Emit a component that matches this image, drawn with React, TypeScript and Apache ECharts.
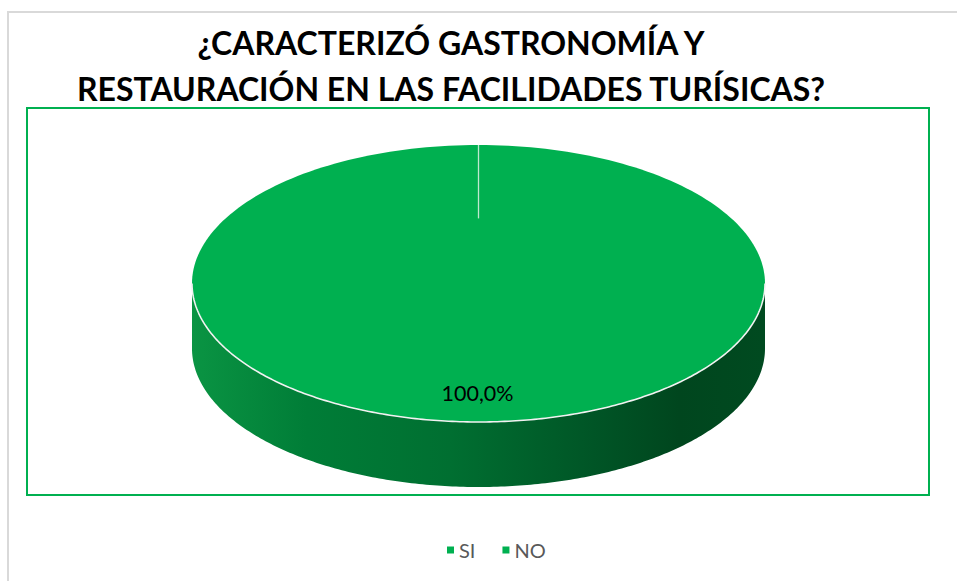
import React, { useEffect, useRef } from "react";
import * as echarts from "echarts";

const categories = ["SI", "NO"];
const values = [100, 0];
const colors = ["#00B050", "#00B050"];
const titleLines = ["¿CARACTERIZÓ GASTRONOMÍA Y", "RESTAURACIÓN EN LAS FACILIDADES TURÍSICAS?"];

const CX = 478.5;
const CY = 283.5;
const RX = 286.5;
const RY = 138.5;
const DEPTH = 65;
const N = 240;

const total = values.reduce((a, b) => a + b, 0);

function pt(t: number, dy = 0): number[] {
  return [CX + RX * Math.sin(t), CY - RY * Math.cos(t) + dy];
}

export default function App() {
  const ref = useRef<HTMLDivElement>(null);
  useEffect(() => {
    document.body.style.margin = "0";
    if (!ref.current) return;
    const chart = echarts.init(ref.current, undefined, { renderer: "svg" });

    const renderSlice = (seriesIdx: number) => (params: any, api: any) => {
      const value = api.value(0);
      let before = 0;
      for (let i = 0; i < seriesIdx; i++) before += values[i];
      const a0 = (before / total) * Math.PI * 2;
      const a1 = ((before + value) / total) * Math.PI * 2;
      const children: any[] = [];
      if (value > 0) {
        const s0 = Math.max(a0, Math.PI / 2);
        const s1 = Math.min(a1, (3 * Math.PI) / 2);
        if (s1 > s0) {
          const top: number[][] = [];
          const bot: number[][] = [];
          for (let k = 0; k <= N; k++) {
            const t = s0 + ((s1 - s0) * k) / N;
            top.push(pt(t));
            bot.push(pt(t, DEPTH));
          }
          children.push({
            type: "polygon",
            shape: { points: top.concat(bot.reverse()) },
            style: {
              fill: new echarts.graphic.LinearGradient(1, 0, 0, 0, [
                { offset: 0, color: "#004A20" },
                { offset: 0.15, color: "#00461E" },
                { offset: 0.3, color: "#005526" },
                { offset: 0.55, color: "#006F31" },
                { offset: 0.8, color: "#007D37" },
                { offset: 1, color: "#0A9443" },
              ]),
            },
          });
        }
        const face: number[][] = [];
        const full = a1 - a0 >= Math.PI * 2 - 1e-9;
        if (!full) face.push([CX, CY]);
        for (let k = 0; k <= N; k++) {
          face.push(pt(a0 + ((a1 - a0) * k) / N));
        }
        children.push({
          type: "polygon",
          shape: { points: face },
          style: { fill: colors[seriesIdx] },
        });
        if (s1 > s0) {
          const rim: number[][] = [];
          for (let k = 0; k <= N; k++) rim.push(pt(s0 + ((s1 - s0) * k) / N));
          children.push({
            type: "polyline",
            shape: { points: rim },
            style: { stroke: "#F2F2F2", lineWidth: 1.6, fill: null },
          });
        }
        const edge = pt(a0);
        children.push({
          type: "line",
          shape: {
            x1: edge[0],
            y1: edge[1],
            x2: CX + (edge[0] - CX) * 0.47,
            y2: CY + (edge[1] - CY) * 0.47,
          },
          style: { stroke: "#BFE8CF", lineWidth: 1.3 },
        });
        const mid = (a0 + a1) / 2;
        children.push({
          type: "text",
          style: {
            text: ((value / total) * 100).toFixed(1).replace(".", ",") + "%",
            x: CX + RX * 0.79 * Math.sin(mid) - 1,
            y: CY - RY * 0.79 * Math.cos(mid),
            align: "center",
            verticalAlign: "middle",
            fill: "#000000",
            fontSize: 21.5,
            fontFamily: "Lato",
          },
        });
      }
      return { type: "group", children };
    };

    chart.setOption({
      animation: false,
      title: {
        text: titleLines.join("\n"),
        left: 451,
        top: 19,
        textAlign: "center",
        padding: 0,
        textStyle: {
          fontFamily: "Lato",
          fontWeight: "bold",
          fontSize: 32,
          lineHeight: 46,
          color: "#000000",
        },
      },
      legend: {
        data: categories,
        left: 442,
        top: 535,
        icon: "rect",
        itemWidth: 7,
        itemHeight: 7,
        itemGap: 27,
        textStyle: { fontFamily: "Lato", fontSize: 20, color: "#595959" },
      },
      graphic: [
        {
          type: "rect",
          shape: { x: 8, y: 12, width: 1000, height: 700 },
          style: { fill: null, stroke: "#D9D9D9", lineWidth: 2 },
          silent: true,
        },
        {
          type: "rect",
          shape: { x: 27, y: 108, width: 902, height: 387 },
          style: { fill: null, stroke: "#00B050", lineWidth: 2 },
          silent: true,
        },
      ],
      series: categories.map((name, i) => ({
        type: "custom",
        name,
        coordinateSystem: "none",
        itemStyle: { color: colors[i] },
        data: [[values[i]]],
        renderItem: renderSlice(i),
      })),
    });
    return () => chart.dispose();
  }, []);
  return <div ref={ref} style={{ width: 957, height: 581 }} />;
}
